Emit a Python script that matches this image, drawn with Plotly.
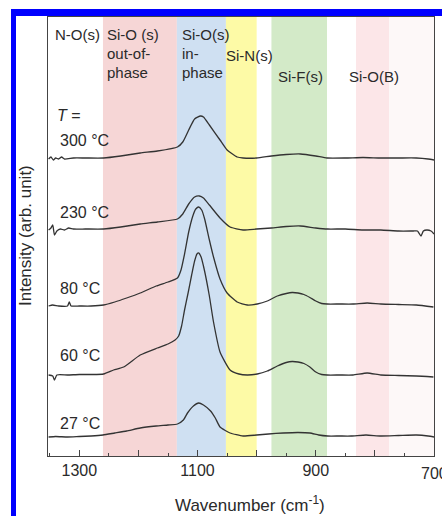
import plotly.graph_objects as go

# ---------------- data ----------------
wn_27 = [1352, 1340, 1320, 1300, 1280, 1260, 1240, 1220, 1197, 1170, 1150, 1134, 1124, 1117, 1107, 1098,
         1090, 1078, 1070, 1062, 1045, 1023, 1000, 980, 955, 930, 910, 895, 880, 860, 840, 815, 790, 760, 730, 710, 700]
int_27 = [19, 19.5, 19, 19.5, 20, 21, 23, 25, 28, 30, 31, 32, 36, 43, 50, 53,
          51, 45, 38, 29, 23, 20, 21, 22, 23, 23.5, 23, 21, 20, 20, 20, 21, 20, 20.5, 21, 20, 19]

wn_60 = [1352, 1345, 1342, 1338, 1320, 1300, 1280, 1259, 1242, 1225, 1197, 1168, 1150, 1138, 1132, 1127, 1122,
         1116, 1110, 1105, 1101, 1098, 1094, 1090, 1085, 1080, 1073, 1062, 1045, 1030, 1016, 999, 982, 965, 950,
         940, 930, 920, 910, 900, 890, 881, 860, 837, 813, 790, 760, 730, 701]
int_60 = [81, 80, 76, 81, 81, 81.5, 81.5, 82, 86, 89, 101, 108, 112, 116, 120, 130, 146,
          163, 181, 195, 202, 203, 199, 190, 176, 160, 134, 104, 86, 82, 81, 82, 85, 90, 93.5,
          94.5, 94, 92.5, 89, 84, 81.5, 81, 81, 81, 83, 81, 80.5, 80, 79]

wn_80 = [1352, 1345, 1335, 1320, 1317, 1314, 1300, 1280, 1259, 1240, 1220, 1197, 1170, 1150, 1134, 1128, 1122,
         1115, 1108, 1103, 1098, 1093, 1088, 1080, 1073, 1062, 1050, 1033, 1016, 999, 982, 965, 950,
         940, 930, 920, 910, 900, 890, 881, 860, 837, 813, 790, 760, 730, 701]
int_80 = [150, 151, 150, 150, 154, 150, 150, 150, 151, 154, 158, 163, 170, 174, 178, 186, 202,
          224, 240, 247, 249, 246, 237, 216, 199, 177, 163, 154, 151, 152, 155, 160, 162.5,
          163.5, 163, 161.5, 158.5, 155, 152.5, 152, 152, 152, 153, 152, 151.5, 151, 149]

wn_230 = [1352, 1348, 1345, 1342, 1338, 1332, 1325, 1318, 1310, 1290, 1259, 1230, 1197, 1168, 1134, 1125,
          1115, 1105, 1097, 1090, 1080, 1062, 1045, 1023, 1000, 975, 950, 926, 900, 880, 850, 820, 790,
          760, 735, 728, 722, 718, 712, 705, 700]
int_230 = [226, 228, 231, 221, 225, 227, 226, 228, 227, 227, 227, 229, 232, 234, 237, 242,
           252, 259, 260, 258, 251, 238, 229, 226, 227, 228, 229.5, 230, 228, 227, 227, 226, 226,
           225, 225, 225, 220, 225, 226, 225, 222]

wn_300 = [1352, 1348, 1344, 1340, 1335, 1330, 1325, 1310, 1290, 1259, 1230, 1197, 1168, 1134, 1125, 1115,
          1105, 1095, 1090, 1080, 1062, 1050, 1033, 1023, 1000, 975, 950, 926, 900, 881, 850, 820, 790,
          760, 730, 710, 700]
int_300 = [297, 299, 296, 298, 297, 299, 297, 298, 298, 298, 300, 303, 305, 309, 314, 326,
           337, 340, 339, 331, 316, 306, 299, 298, 298, 300, 301.5, 302, 300, 298, 298, 298.5, 298,
           298, 298, 297, 296]

spectra = [
    ("27 °C", wn_27, int_27),
    ("60 °C", wn_60, int_60),
    ("80 °C", wn_80, int_80),
    ("230 °C", wn_230, int_230),
    ("300 °C", wn_300, int_300),
]

# bands: (start, end, colour)
band_edges = [(1260, 1135), (1135, 1052), (1052, 1000), (975, 881), (832, 776), (776, 700)]
band_colors = ["#f6d6d6", "#cfe0f2", "#fdfaa6", "#d3eac8", "#fce6e8", "#fdf8f8"]

band_labels = [
    ("N-O(s)", 53, 35), ("Si-O (s)", 105, 35), ("out-of-", 105, 53), ("phase", 105, 72),
    ("Si-O(s)", 180, 35), ("in-", 180, 53), ("phase", 180, 72),
    ("Si-N(s)", 224, 55), ("Si-F(s)", 276, 76), ("Si-O(B)", 347, 76),
]
temp_label_y = [423, 355, 288, 212, 140]

x_label_ticks = [1300, 1100, 900]
x_edge_tick = 700
x_unlabeled_ticks = [1200, 1000, 800]

# ---------------- figure ----------------
W, H = 442, 516
ML, MR, MT, MB = 48, 8, 17, 60
PW, PH = W - ML - MR, H - MT - MB
FONT = "Liberation Sans, Arial, sans-serif"
TXT = "#2a2a2a"
XR = [1353, 700]


def px(x):
    return (x - ML) / PW


def py(y):
    return (H - MB - y) / PH


fig = go.Figure()
for name, wn, val in spectra:
    fig.add_trace(go.Scatter(x=wn, y=val, mode="lines", name=name,
                             line=dict(color="#333333", width=1.3, shape="spline", smoothing=0.5),
                             showlegend=False, hoverinfo="skip"))
# empty trace carrying the secondary (tick-only) x axis
fig.add_trace(go.Scatter(x=[None], y=[None], xaxis="x2", yaxis="y", showlegend=False, hoverinfo="skip"))

shapes = []
for (a, b), c in zip(band_edges, band_colors):
    shapes.append(dict(type="rect", xref="x", yref="paper", x0=a, x1=b, y0=0, y1=1,
                       fillcolor=c, line=dict(width=0), layer="below"))
# blue frame (left and top)
shapes.append(dict(type="rect", xref="paper", yref="paper", x0=px(11), x1=px(16), y0=py(H + 5), y1=py(9),
                   fillcolor="#0000ff", line=dict(width=0)))
shapes.append(dict(type="rect", xref="paper", yref="paper", x0=px(11), x1=px(W + 5), y0=py(16), y1=py(9),
                   fillcolor="#0000ff", line=dict(width=0)))

annotations = []
for t, x, y in band_labels:
    annotations.append(dict(text=t, xref="paper", yref="paper", x=px(x), y=py(y), xanchor="left",
                            yanchor="middle", showarrow=False,
                            font=dict(size=15, color=TXT, family=FONT)))
annotations.append(dict(text="<i>T</i> =", xref="paper", yref="paper", x=px(55), y=py(115), xanchor="left",
                        yanchor="middle", showarrow=False, font=dict(size=16, color=TXT, family=FONT)))
for (name, _, _), y in zip(spectra, temp_label_y):
    annotations.append(dict(text=name, xref="paper", yref="paper", x=px(58), y=py(y), xanchor="left",
                            yanchor="middle", showarrow=False, font=dict(size=16, color=TXT, family=FONT)))
# the right-most tick label, which runs off the picture's edge
annotations.append(dict(text=str(x_edge_tick), xref="x", yref="paper", x=x_edge_tick, y=py(473),
                        xanchor="center", yanchor="middle", showarrow=False,
                        font=dict(size=16, color=TXT, family=FONT)))
annotations.append(dict(text="Intensity (arb. unit)", xref="paper", yref="paper", x=px(26), y=py(236),
                        xanchor="center", yanchor="middle", textangle=-90, showarrow=False,
                        font=dict(size=17, color=TXT, family=FONT)))
annotations.append(dict(text="Wavenumber (cm<sup>-1</sup>)", xref="paper", yref="paper", x=px(250), y=py(504),
                        xanchor="center", yanchor="middle", showarrow=False,
                        font=dict(size=17, color=TXT, family=FONT)))

fig.update_layout(
    width=W, height=H,
    margin=dict(l=ML, r=MR, t=MT, b=MB),
    paper_bgcolor="white", plot_bgcolor="white",
    shapes=shapes, annotations=annotations,
    xaxis=dict(range=XR, tickvals=x_label_ticks + [x_edge_tick], ticks="inside", ticklen=6,
               tickcolor="#444", tickwidth=1, showgrid=False, zeroline=False,
               showline=True, linecolor="#444", linewidth=1, mirror=True,
               tickfont=dict(size=16, color=TXT, family=FONT),
               minor=dict(dtick=50, tick0=700, ticks="inside", ticklen=3, tickcolor="#444", showgrid=False)),
    xaxis2=dict(range=XR, overlaying="x", anchor="y", side="bottom", tickvals=x_unlabeled_ticks,
                ticks="inside", ticklen=6, tickcolor="#444", tickwidth=1, showticklabels=False,
                showgrid=False, zeroline=False, showline=False),
    yaxis=dict(range=[0, 439], showticklabels=False, ticks="", showgrid=False, zeroline=False,
               showline=True, linecolor="#444", linewidth=1, mirror=True),
)

fig.write_html("out.html", config={"displayModeBar": False})

# remove the default page margin so the figure sits at the window's top-left corner
with open("out.html", encoding="utf-8") as f:
    html = f.read()
html = html.replace("<head>", "<head><style>html,body{margin:0;padding:0;overflow:hidden;}</style>", 1)
with open("out.html", "w", encoding="utf-8") as f:
    f.write(html)
